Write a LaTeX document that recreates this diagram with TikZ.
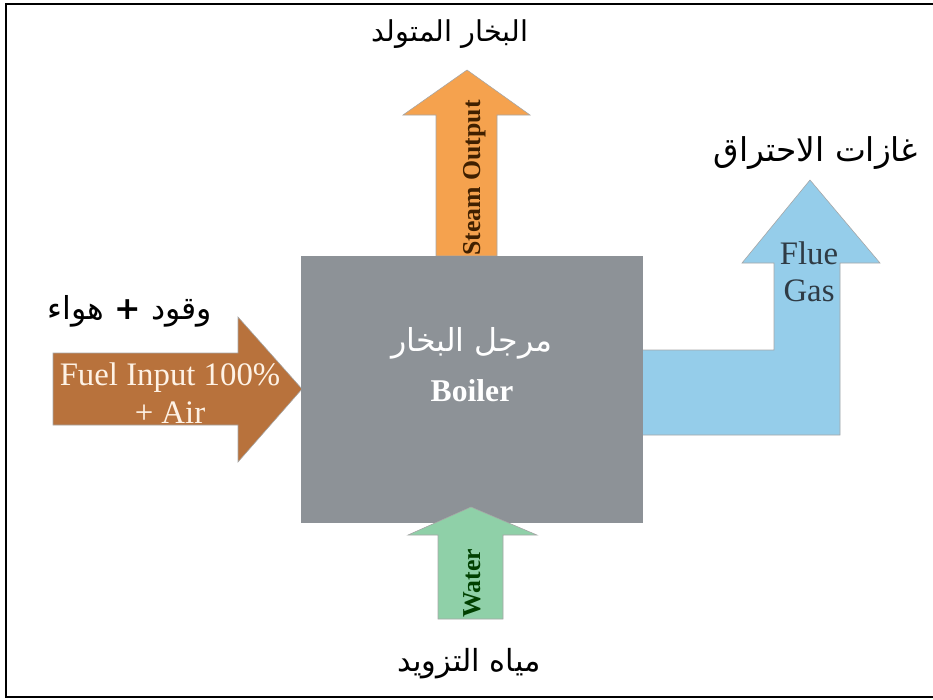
\documentclass[tikz,border=0pt]{standalone}
\usepackage{fontspec}
\setmainfont{Liberation Serif}
\newfontfamily\arabicfont[Script=Arabic]{DejaVu Sans}
\TeXXeTstate=1
\definecolor{boilergray}{HTML}{8D9297}
\definecolor{fuelbrown}{HTML}{B8723C}
\definecolor{steamorange}{HTML}{F5A24E}
\definecolor{fluebue}{HTML}{95CDEA}
\definecolor{watergreen}{HTML}{8FD0A8}
\definecolor{fluetext}{HTML}{2F3B45}

\begin{document}
\begin{tikzpicture}[x=0.03cm,y=-0.03cm, flow/.style={draw=black!35,line width=0.5pt},
  ar/.style={font=\arabicfont\fontsize{#1}{#1}\selectfont}, ar/.default=25,
  en/.style={font=\fontsize{28}{32}\selectfont,align=center,inner sep=0pt},
  side/.style={font=\bfseries\fontsize{22}{26}\selectfont,rotate=90,inner sep=0pt}]
\useasboundingbox (0,0) rectangle (933,699);
\clip (0,0) rectangle (933,699);
\draw[line width=1.8pt] (6,4) rectangle (945,697);
% arrows into and out of the boiler
\draw[flow,fill=fuelbrown] (53,353) -- (238,353) -- (238,317) -- (302,389) -- (238,462) -- (238,425) -- (53,425) -- cycle;
\draw[flow,fill=steamorange] (436,256) -- (436,115) -- (403,115) -- (467,70) -- (530,115) -- (497,115) -- (497,256) -- cycle;
\draw[flow,fill=fluebue] (642,350) -- (774,350) -- (774,263) -- (742,263) -- (810,180) -- (880,263) -- (840,263) -- (840,435) -- (642,435) -- cycle;
\node[fill=boilergray,inner sep=0pt,minimum width=10.26cm,minimum height=8.01cm] (boiler) at (472,389.5) {};
\draw[flow,fill=watergreen] (438,619) -- (438,535) -- (408,535) -- (471,507) -- (537,535) -- (503,535) -- (503,619) -- cycle;
% texts
\node[ar=27,text=white] (boilerar) at (472,343) {\beginR مرجل البخار\endR};
\node[en,text=white,font=\bfseries\fontsize{27}{31}\selectfont] (boileren) at (472,391) {Boiler};
\node[en,text=black!5!orange!10] (fuel) at (170,393) {Fuel Input 100\%\\+ Air};
\node[side,text=black!75!orange] (steam) at (475,178) {Steam Output};
\node[side,text=black!75!green] (water) at (472,583) {Water};
\node[en,text=fluetext] (flue) at (809,272) {Flue\\Gas};
\node[ar=24.5] (steamar) at (450,34) {\beginR البخار المتولد\endR};
\node[ar=28] (fluear) at (816,153) {\beginR غازات الاحتراق\endR};
\node[ar=27] (fuelar) at (130,311) {\beginR وقود \textbf{+} هواء\endR};
\node[ar=26] (waterar) at (469,664) {\beginR مياه التزويد\endR};
\end{tikzpicture}
\end{document}
